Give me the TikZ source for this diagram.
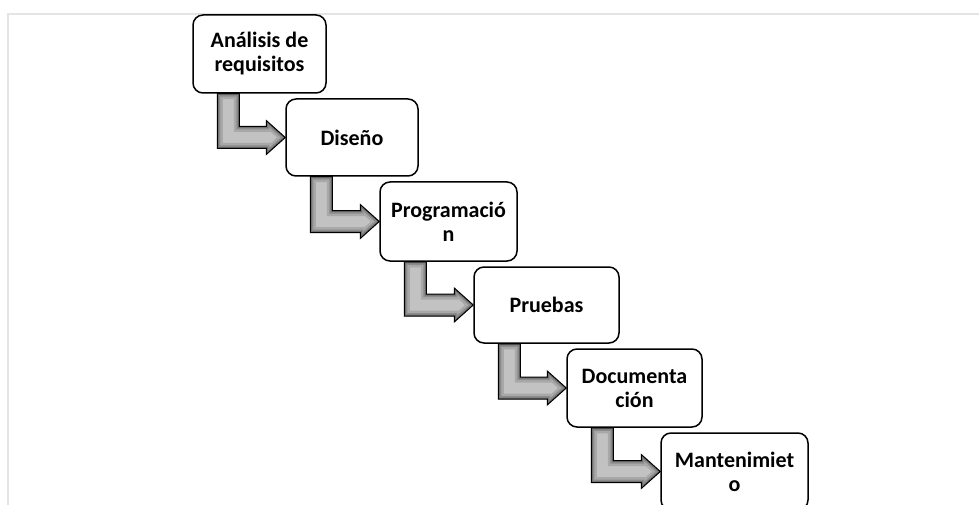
\documentclass[tikz,border=0pt]{standalone}
\usepackage{fontspec}
\setmainfont{Carlito}
\usetikzlibrary{calc,backgrounds}
\definecolor{framegray}{RGB}{228,228,228}
\definecolor{arrowlight}{RGB}{194,194,194}
\definecolor{arrowmid}{RGB}{168,168,168}
\definecolor{arrowdark}{RGB}{140,140,140}
\definecolor{arrowedge}{RGB}{112,112,112}
\tikzset{
  stagebox/.style={draw=black, line width=1.5pt, fill=white, rounded corners=10pt,
    align=center, inner sep=0pt, font=\bfseries\fontsize{22}{24}\selectfont},
  flowarrow/.style={draw=black, line width=1pt, line join=miter},
}
% bent block arrow leaving the bottom of #1 and entering the left side of #2,
% shaded darker towards its outline
\newcommand\stagearrow[2]{%
  \path ($(#1.south west)+(25,0)$) coordinate (#1-sa)
        ($(#1.south west)+(47,0)$) coordinate (#1-sb);
  \path[save path=\arrowshape] (#1-sa)
    -- ($(#1-sa|-#2.west)+(0,11)$)
    -- ($(#2.west)+(-19,11)$)
    -- ($(#2.west)+(-19,17)$)
    -- (#2.west)
    -- ($(#2.west)+(-19,-17)$)
    -- ($(#2.west)+(-19,-11)$)
    -- ($(#1-sb|-#2.west)+(0,-11)$)
    -- (#1-sb) -- cycle;
  \fill[arrowlight, use path=\arrowshape];
  \begin{scope}
    \clip[use path=\arrowshape];
    \draw[arrowmid, line width=11pt, line join=miter, use path=\arrowshape];
    \draw[arrowdark, line width=6pt, line join=miter, use path=\arrowshape];
    \draw[arrowedge, line width=3pt, line join=miter, use path=\arrowshape];
  \end{scope}
  \draw[flowarrow, use path=\arrowshape];
}
\begin{document}
\begin{tikzpicture}[x=1pt, y=-1pt]
  \useasboundingbox (0,0) rectangle (979,505);
  \clip (0,0) rectangle (979,505);
  \draw[framegray, line width=2pt] (8,506) -- (8,14) -- (979,14);

  \path
    (259.5,54)  node[stagebox, minimum width=133pt, minimum height=78pt] (req)  {Análisis de\\requisitos}
    (352,137.5) node[stagebox, minimum width=132pt, minimum height=77pt] (dis)  {Diseño}
    (448.5,221.5) node[stagebox, minimum width=137pt, minimum height=79pt] (prog) {Programació\\n}
    (546.5,305) node[stagebox, minimum width=145pt, minimum height=76pt] (prue) {Pruebas}
    (634.5,388) node[stagebox, minimum width=135pt, minimum height=78pt] (doc)  {Documenta\\ción}
    (734.5,471.5) node[stagebox, minimum width=147pt, minimum height=77pt] (mant) {Mantenimiet\\o};

  \begin{scope}[on background layer]
    \stagearrow{req}{dis}
    \stagearrow{dis}{prog}
    \stagearrow{prog}{prue}
    \stagearrow{prue}{doc}
    \stagearrow{doc}{mant}
  \end{scope}
\end{tikzpicture}
\end{document}
